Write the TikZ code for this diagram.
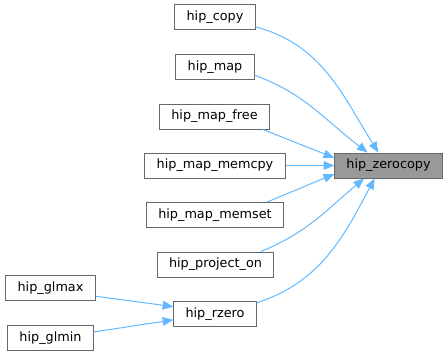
\documentclass[tikz,border=0pt]{standalone}
\usepackage{fontspec}
\setmainfont{DejaVu Sans}
\usepackage{xcolor}
\usetikzlibrary{arrows.meta, positioning}
\definecolor{edgeblue}{HTML}{63B8FF}
\definecolor{boxline}{HTML}{666666}
\definecolor{current}{HTML}{999999}

\begin{document}
\begin{tikzpicture}[
    x=0.75pt, y=-0.75pt,
    box/.style={rectangle, draw=boxline, fill=white, line width=0.75pt, minimum height=18.75pt, inner xsep=8.8pt, inner ysep=0pt, font=\fontsize{9.6}{11}\selectfont},
    focus/.style={box, fill=current},
    call/.style={-{Stealth[length=8pt, width=6.5pt, inset=0pt]}, edgeblue, line width=0.75pt},
]
\useasboundingbox (0,0) rectangle (448,356);

% Called function
\node[focus] (zerocopy) at (388.5,165.5) {hip\_zerocopy};

% Direct callers
\node[box] (copy) at (215,17.5) {hip\_copy};
\node[box] (map) at (215,67.5) {hip\_map};
\node[box] (mapfree) at (214.5,116.5) {hip\_map\_free};
\node[box] (memcpy) at (215,165.5) {hip\_map\_memcpy};
\node[box] (memset) at (215,215) {hip\_map\_memset};
\node[box] (projecton) at (215.5,264.5) {hip\_project\_on};
\node[box] (rzero) at (215,314) {hip\_rzero};

% Callers of hip_rzero
\node[box] (glmax) at (50.5,288.3) {hip\_glmax};
\node[box] (glmin) at (50.5,338) {hip\_glmin};

% Arrows
\draw[call] (copy.-13) to[out=-15, in=122] (zerocopy.128);
\draw[call] (map.-11) to[out=-20, in=143] (zerocopy.148);
\draw[call] (mapfree.-15) -- (zerocopy.172);
\draw[call] (memcpy) -- (zerocopy);
\draw[call] (memset.14) -- (zerocopy.-171);
\draw[call] (projecton.16) to[out=22, in=-140] (zerocopy.-152);
\draw[call] (rzero.15) to[out=18, in=-118] (zerocopy.-137);
\draw[call] (glmax.-10) -- (rzero.170);
\draw[call] (glmin.8) -- (rzero.-172);

\end{tikzpicture}
\end{document}
